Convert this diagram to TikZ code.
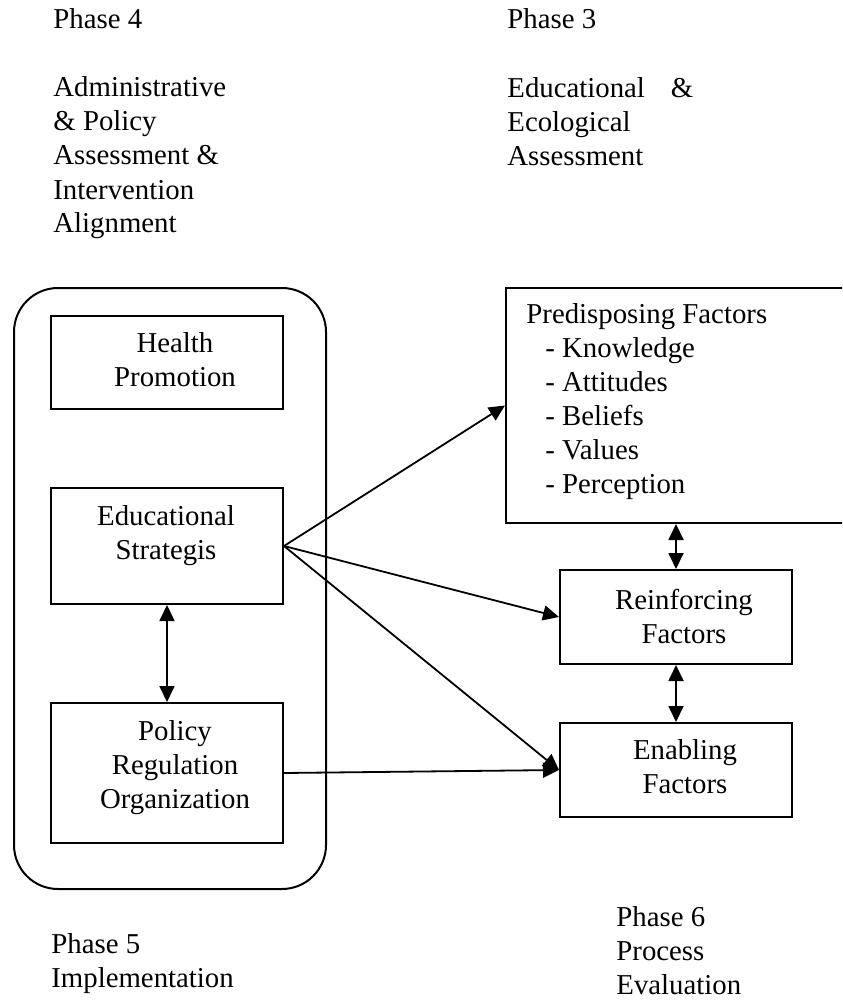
\documentclass[tikz,border=0pt]{standalone}
\usepackage{fontspec}
\setmainfont{Liberation Serif}
\usetikzlibrary{arrows.meta}
\begin{document}
\begin{tikzpicture}[x=0.5pt,y=-0.5pt,
  every node/.style={font=\fontsize{14.4pt}{17pt}\selectfont},
  box/.style={draw,line width=1pt,inner sep=0pt,anchor=north west},
  % multi-line labels are placed by the baseline of their last line
  lbl/.style={inner sep=0pt,anchor=base west,align=left},
  ctr/.style={inner sep=0pt,anchor=base,align=center},
  tip/.tip={Triangle[length=8pt,width=7.5pt]},
  link/.style={line width=0.9pt,-tip},
  both/.style={line width=0.9pt,tip-tip}]
\useasboundingbox (0,0) rectangle (842,1000);
\clip (0,0) rectangle (842,1000);

% phase headings
\node[lbl] (p4) at (53,29) {Phase 4};
\node[lbl] (p4t) at (53,233) {Administrative\\\& Policy\\Assessment \&\\Intervention\\Alignment};
\node[lbl] (p3) at (507,29) {Phase 3};
\node[lbl] (p3t) at (507,166) {Educational\hspace{13pt}\&\\Ecological\\Assessment};

% implementation group
\node[box, rounded corners=22pt, minimum width=156pt, minimum height=300.5pt] (grp) at (13,287) {};
\node[box, minimum width=116pt, minimum height=46.5pt] (hp) at (50,315) {};
\node[box, minimum width=116pt, minimum height=58pt] (edu) at (50,487) {};
\node[box, minimum width=116pt, minimum height=70pt] (pol) at (50,702) {};
\node[ctr] (hpt) at (175,386) {Health\\Promotion};
\node[ctr] (edut) at (166,559) {Educational\\Strategis};
\node[ctr] (polt) at (175,808) {Policy\\Regulation\\Organization};

% factor boxes
\node[box, minimum width=177.5pt, minimum height=117.5pt] (pre) at (505,287) {};
\node[box, minimum width=116pt, minimum height=47pt] (rein) at (559,569) {};
\node[box, minimum width=116pt, minimum height=47pt] (enab) at (559,722) {};
\node[lbl] (pret) at (526,493) {Predisposing Factors\\
  \hspace*{9.5pt}- Knowledge\\
  \hspace*{9.5pt}- Attitudes\\
  \hspace*{9.5pt}- Beliefs\\
  \hspace*{9.5pt}- Values\\
  \hspace*{9.5pt}- Perception};
\node[ctr] (reint) at (684,643) {Reinforcing\\Factors};
\node[ctr] (enabt) at (685,793) {Enabling\\Factors};

% connectors
\draw[link] (edu.east) -- (pre.west);
\draw[link] (edu.east) -- (rein.west);
\draw[link] (edu.east) -- (enab.west);
\draw[link] (pol.east) -- (enab.west);
\draw[both] (edu.south) -- (pol.north);
\draw[both] (pre.south -| rein.north) -- (rein.north);
\draw[both] (rein.south) -- (enab.north);

% bottom phases
\node[lbl] (p5) at (51,987) {Phase 5\\Implementation};
\node[lbl] (p6) at (616,994) {Phase 6\\Process\\Evaluation};
\end{tikzpicture}
\end{document}
